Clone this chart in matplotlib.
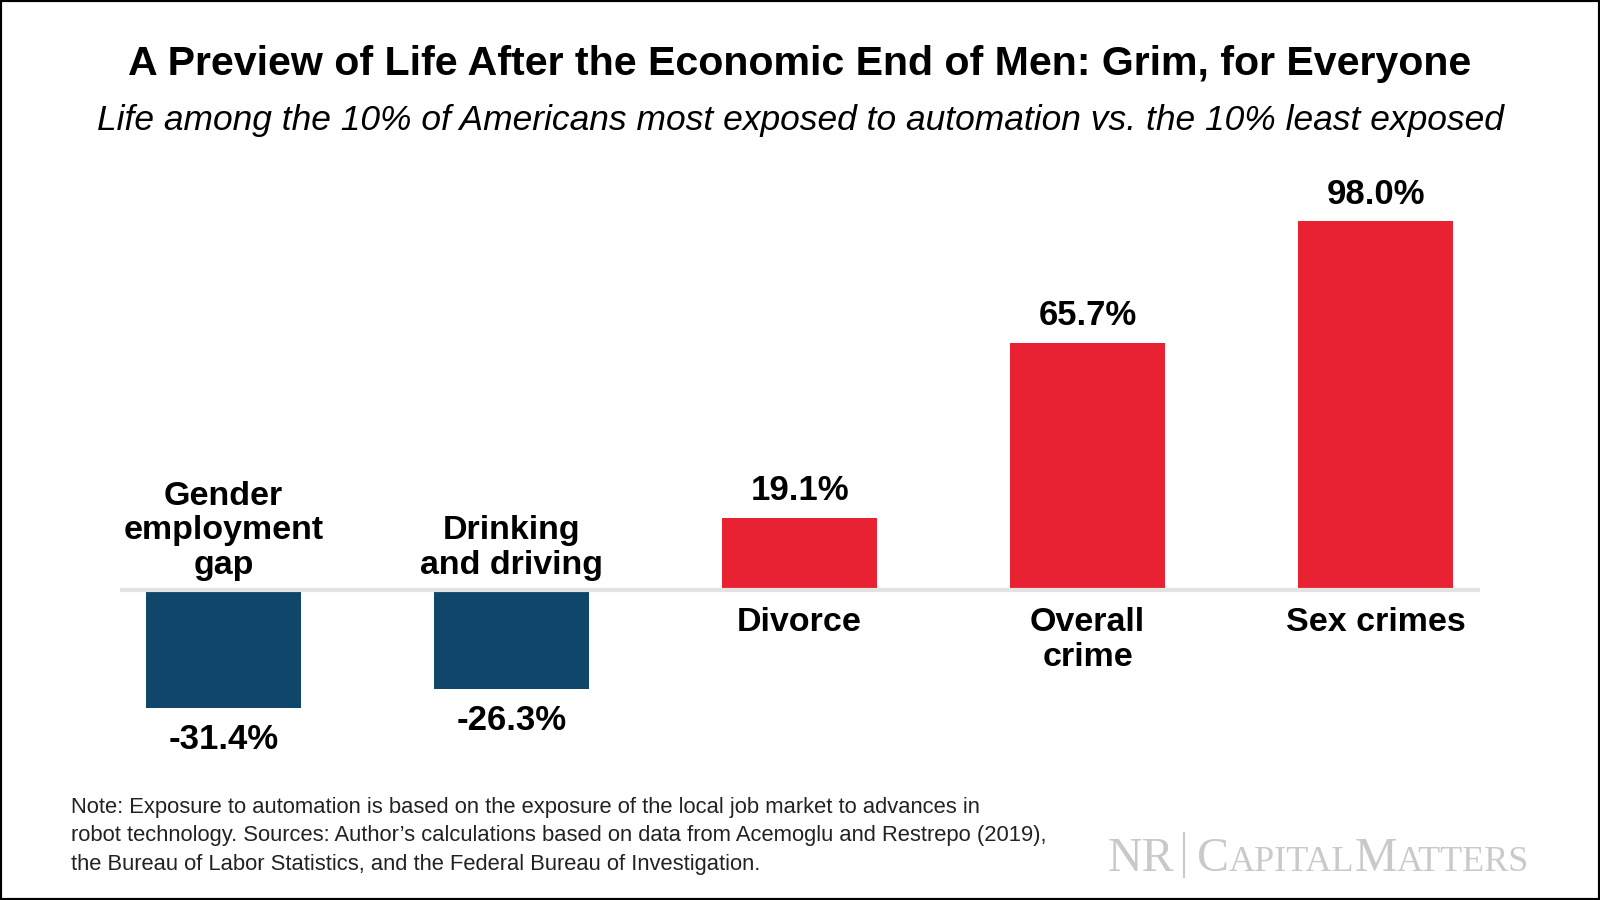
import matplotlib.pyplot as plt
from matplotlib.lines import Line2D
from matplotlib.patches import Rectangle

categories = ["Gender\nemployment\ngap", "Drinking\nand driving", "Divorce", "Overall\ncrime", "Sex crimes"]
values = [-31.4, -26.3, 19.1, 65.7, 98.0]
value_labels = ["-31.4%", "-26.3%", "19.1%", "65.7%", "98.0%"]

title = "A Preview of Life After the Economic End of Men: Grim, for Everyone"
subtitle = "Life among the 10% of Americans most exposed to automation vs. the 10% least exposed"
note_lines = [
    "Note: Exposure to automation is based on the exposure of the local job market to advances in",
    "robot technology. Sources: Author\u2019s calculations based on data from Acemoglu and Restrepo (2019),",
    "the Bureau of Labor Statistics, and the Federal Bureau of Investigation.",
]
# logo pieces: (text, large cap?)
logo_parts = [("C", True), ("APITAL", False), ("M", True), ("ATTERS", False)]

BLUE = "#10466a"
RED = "#e92233"
GREY = "#c9c9c9"

plt.rcParams['font.family'] = ['Liberation Sans', 'DejaVu Sans']

fig = plt.figure(figsize=(16, 9), dpi=100)
ax = fig.add_axes([0.0753, 0.1568, 0.8495, 0.6473])

xs = list(range(len(values)))
colors = [BLUE if v < 0 else RED for v in values]
ax.bar(xs, values, width=0.54, color=colors, zorder=2)
ax.axhline(0, color="#e3e3e3", lw=3, zorder=3)
ax.set_xlim(-0.358, 4.361)
ax.set_ylim(-45, 110)
ax.axis("off")

for i, (v, lab, cat) in enumerate(zip(values, value_labels, categories)):
    if v >= 0:
        ax.annotate(lab, (i, v), xytext=(0, 19.5), textcoords="offset points",
                    ha="center", va="center", fontsize=25, fontweight="bold")
        ax.annotate(cat, (i, 0), xytext=(0, -12.5), textcoords="offset points",
                    ha="center", va="top", fontsize=24.5, fontweight="bold", linespacing=1.15)
    else:
        ax.annotate(lab, (i, v), xytext=(0, -23), textcoords="offset points",
                    ha="center", va="center", fontsize=25, fontweight="bold")
        ax.annotate(cat, (i, 0), xytext=(0, 6.5), textcoords="offset points",
                    ha="center", va="bottom", fontsize=24.5, fontweight="bold", linespacing=1.15)

# title and subtitle
fig.text(0.5, 0.929, title, ha="center", va="center", fontsize=29.6, fontweight="bold")
fig.text(0.5, 0.866, subtitle, ha="center", va="center", fontsize=25.5, style="italic")

# footnote
for k, line in enumerate(note_lines):
    fig.text(0.0446, 1 - (807 + 28.6 * k) / 900, line, ha="left", va="center",
             fontsize=15.8, color="#222222")

# logo
fig.canvas.draw()
r = fig.canvas.get_renderer()
base = 1 - 871 / 900
t = fig.text(1108 / 1600, base, "NR", fontsize=34.5, family="Liberation Serif",
             color=GREY, va="baseline")
x1 = t.get_window_extent(r).x1
bar_x = x1 + 9
fig.add_artist(Line2D([bar_x / 1600] * 2, [1 - 877 / 900, 1 - 833 / 900],
                      transform=fig.transFigure, color=GREY, lw=1.5))
xpos = bar_x + 13
for txt, big in logo_parts:
    t = fig.text(xpos / 1600, base, txt, fontsize=34.5 if big else 26,
                 family="Liberation Serif", color=GREY, va="baseline")
    xpos = t.get_window_extent(r).x1

# frame around the picture
fig.patches.append(Rectangle((0, 0), 1, 1, transform=fig.transFigure, fill=False,
                             ec="black", lw=3))

fig.savefig("out.png", dpi=100)
